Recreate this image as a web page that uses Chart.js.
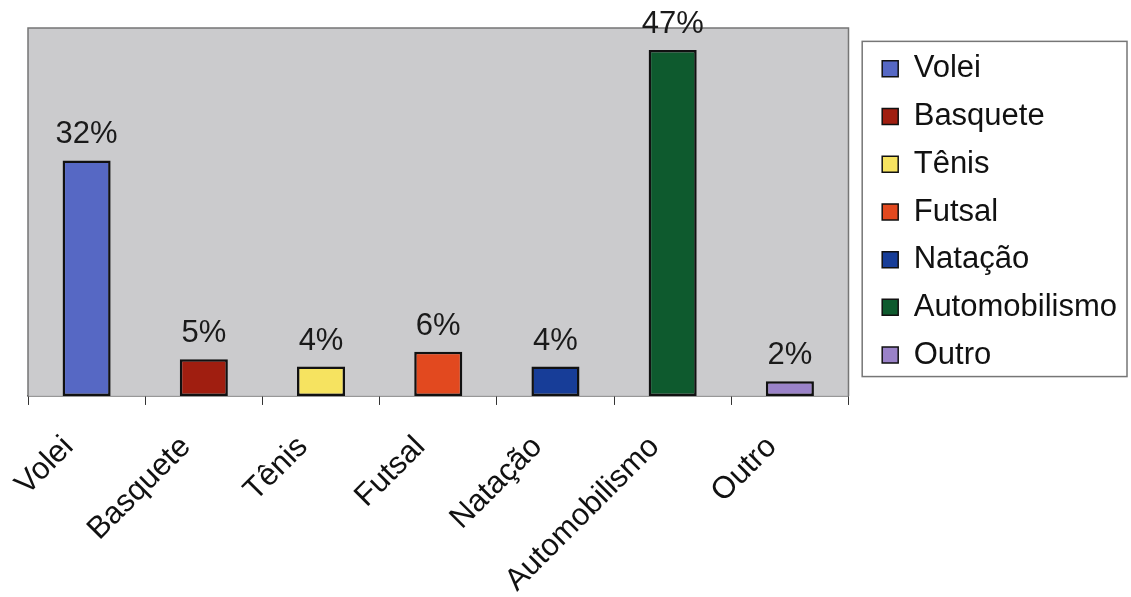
<!DOCTYPE html>
<html>
<head>
<meta charset="utf-8">
<script src="https://cdn.jsdelivr.net/npm/chart.js@4.4.0/dist/chart.umd.min.js"></script>
<style>
html, body { margin: 0; padding: 0; background: #fff; }
#wrap { width: 1131px; height: 597px; }
</style>
</head>
<body>
<div id="wrap"><canvas id="chart"></canvas></div>
<script>
const categories = ['Volei', 'Basquete', 'Tênis', 'Futsal', 'Natação', 'Automobilismo', 'Outro'];
const percentages = [32, 5, 4, 6, 4, 47, 2];
const barColors = ['#5668C4', '#A01E10', '#F6E360', '#E2491F', '#173D98', '#0E5A2E', '#9A82C8'];
const yMin = 0;
const yMax = 50;

const FONT = "'Liberation Sans', Arial, sans-serif";

// gray plot background, frame, value labels and the legend box
const decorPlugin = {
  id: 'decor',
  beforeDatasetsDraw(chart) {
    const { ctx, chartArea: a } = chart;
    ctx.save();
    ctx.fillStyle = '#CBCBCD';
    ctx.fillRect(a.left, a.top, a.right - a.left, a.bottom - a.top);
    ctx.strokeStyle = '#767676';
    ctx.lineWidth = 1.5;
    ctx.beginPath();
    ctx.moveTo(a.left, a.bottom);
    ctx.lineTo(a.left, a.top);
    ctx.lineTo(a.right, a.top);
    ctx.lineTo(a.right, a.bottom);
    ctx.stroke();
    ctx.restore();
  },
  afterDraw(chart) {
    const { ctx } = chart;
    ctx.save();
    ctx.fillStyle = '#1a1a1a';
    ctx.font = '31px ' + FONT;
    ctx.textAlign = 'center';
    ctx.textBaseline = 'alphabetic';
    chart.getDatasetMeta(0).data.forEach((bar, i) => {
      ctx.fillText(percentages[i] + '%', bar.x, bar.y - 17);
    });

    const hb = chart.legend.legendHitBoxes;
    if (hb && hb.length) {
      const left = hb[0].left - 20;
      const top = hb[0].top - 12;
      let right = 0;
      hb.forEach(h => { right = Math.max(right, h.left + h.width); });
      const last = hb[hb.length - 1];
      ctx.strokeStyle = '#767676';
      ctx.lineWidth = 1.5;
      ctx.strokeRect(left, top, right + 10 - left, last.top + last.height + 6 - top);
    }
    ctx.restore();
  }
};

new Chart(document.getElementById('chart').getContext('2d'), {
  type: 'bar',
  data: {
    labels: categories,
    datasets: [{
      label: 'Esportes',
      data: percentages,
      backgroundColor: barColors,
      borderColor: '#111',
      borderWidth: 2.5,
      borderSkipped: false,
      barPercentage: 0.41,
      categoryPercentage: 1
    }]
  },
  options: {
    responsive: true,
    maintainAspectRatio: false,
    animation: false,
    layout: { padding: { left: 28, top: 28, right: 4, bottom: -26 } },
    plugins: {
      tooltip: { enabled: false },
      legend: {
        position: 'right',
        fullSize: false,
        labels: {
          color: '#111',
          font: { family: FONT, size: 31 },
          boxWidth: 16,
          boxHeight: 16,
          padding: 16.7,
          generateLabels: (chart) => categories.map((c, i) => ({
            text: c,
            fillStyle: barColors[i],
            strokeStyle: '#111',
            lineWidth: 1.5,
            fontColor: '#111',
            index: i
          }))
        }
      }
    },
    scales: {
      x: {
        grid: { display: true, drawOnChartArea: false, color: '#333', tickLength: 9, offset: true },
        border: { display: true, color: '#333', width: 1.5 },
        ticks: {
          color: '#111',
          font: { family: FONT, size: 31 },
          minRotation: 45,
          maxRotation: 45,
          padding: 24,
          labelOffset: -18
        }
      },
      y: {
        position: 'right',
        min: yMin,
        max: yMax,
        grid: { display: false },
        border: { display: false },
        ticks: { display: false },
        afterFit: (scale) => { scale.width = 17; }
      }
    }
  },
  plugins: [decorPlugin]
});
</script>
</body>
</html>
